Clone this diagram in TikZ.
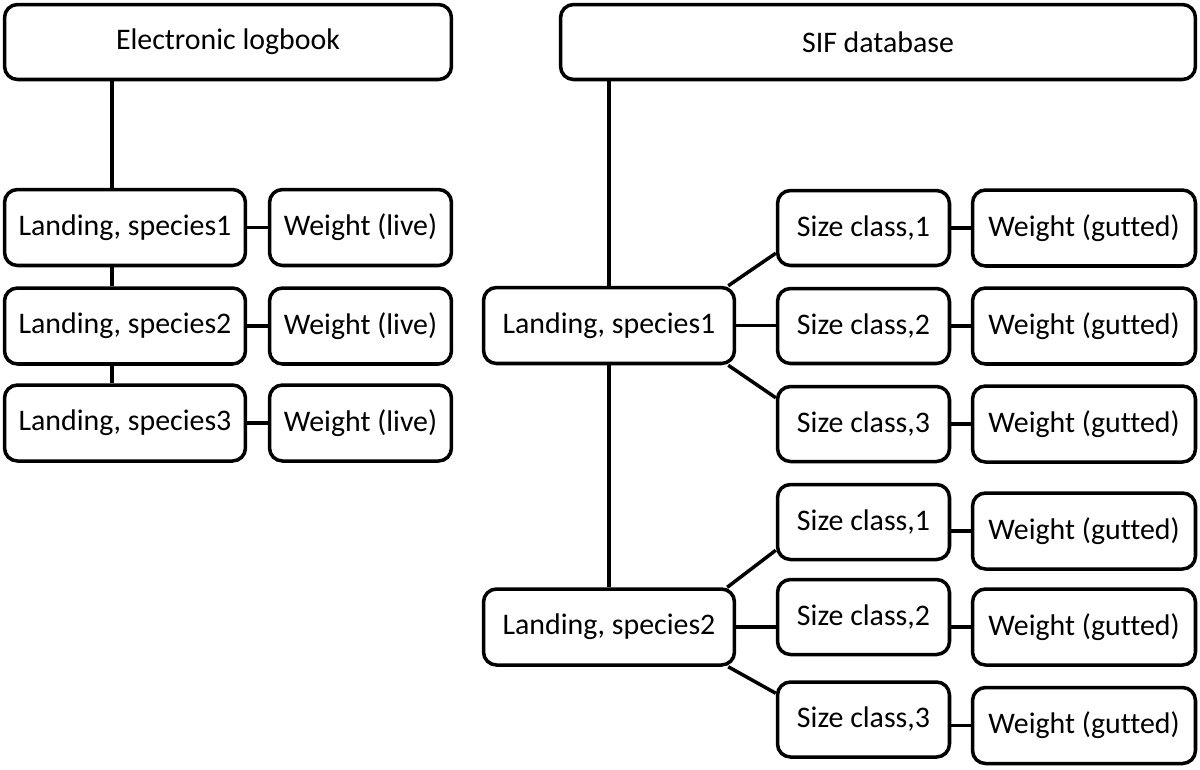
\documentclass[tikz,border=0pt]{standalone}
\usepackage{fontspec}
\setmainfont{Carlito}[Ligatures=NoCommon]
\begin{document}
\begin{tikzpicture}[
    x=0.02cm, y=-0.02cm,
    line width=2pt,
    font=\fontsize{17}{20}\selectfont,
    topbox/.style={rectangle, draw, rounded corners=0.26cm, minimum height=1.5cm, inner sep=0pt},
    landbox/.style={rectangle, draw, rounded corners=0.26cm, minimum height=1.52cm, minimum width=4.82cm, inner sep=0pt},
    livebox/.style={rectangle, draw, rounded corners=0.26cm, minimum height=1.52cm, minimum width=3.64cm, inner sep=0pt},
    sizebox/.style={rectangle, draw, rounded corners=0.26cm, minimum height=1.5cm, minimum width=3.44cm, inner sep=0pt},
    gutbox/.style={rectangle, draw, rounded corners=0.26cm, minimum height=1.52cm, minimum width=4.46cm, inner sep=0pt}
]
\useasboundingbox (0,0) rectangle (1200,769);

% Quellen
\node[topbox, minimum width=8.94cm] at (228,42) (elog) {Electronic logbook};
\node[topbox, minimum width=12.7cm] at (878,42) (sif) {SIF database};

% Logbuch: Anlandungen je Art
\node[landbox] at (125,227.5) (ls1) {Landing, species1};
\node[landbox] at (125,326) (ls2) {Landing, species2};
\node[landbox] at (125,423) (ls3) {Landing, species3};

% Logbuch: Gewichte
\node[livebox] at (360.5,227.5) (lw1) {Weight (live)};
\node[livebox] at (360.5,326) (lw2) {Weight (live)};
\node[livebox] at (360.5,423) (lw3) {Weight (live)};

% SIF: Anlandungen je Art
\node[landbox, minimum width=5.02cm] at (609,325.5) (sp1) {Landing, species1};
\node[landbox, minimum width=5.02cm] at (609,627) (sp2) {Landing, species2};

% SIF: Größenklassen, Art 1
\node[sizebox] at (863.5,228) (sca1) {Size class,1};
\node[sizebox] at (863.5,326) (sca2) {Size class,2};
\node[sizebox] at (863.5,424) (sca3) {Size class,3};
\node[gutbox] at (1084,228) (wga1) {Weight (gutted)};
\node[gutbox] at (1084,326) (wga2) {Weight (gutted)};
\node[gutbox] at (1084,424) (wga3) {Weight (gutted)};

% SIF: Größenklassen, Art 2
\node[sizebox] at (863.5,522) (scb1) {Size class,1};
\node[sizebox] at (863.5,617) (scb2) {Size class,2};
\node[sizebox] at (863.5,719.5) (scb3) {Size class,3};
\node[gutbox] at (1084,531) (wgb1) {Weight (gutted)};
\node[gutbox] at (1084,627) (wgb2) {Weight (gutted)};
\node[gutbox] at (1084,725.5) (wgb3) {Weight (gutted)};

% Vertikale Verbindungen links
\draw ([xshift=-0.26cm]ls1.north) -- ([xshift=-0.26cm]ls1.north |- elog.south);
\draw ([xshift=-0.26cm]ls1.south) -- ([xshift=-0.26cm]ls2.north);
\draw ([xshift=-0.26cm]ls2.south) -- ([xshift=-0.26cm]ls3.north);

% Verbindungen zu Gewichten links
\draw (ls1.east) -- (lw1.west);
\draw (ls2.east) -- (lw2.west);
\draw (ls3.east) -- (lw3.west);

% Vertikale Verbindungen rechts
\draw (sp1.north) -- (sp1.north |- sif.south);
\draw (sp1.south) -- (sp2.north);

% Verzweigung zu Größenklassen
\draw ([xshift=-0.16cm]sp1.north east) -- ([yshift=0.28cm]sca1.south west);
\draw (sp1.east) -- (sp1.east -| sca2.west);
\draw ([xshift=-0.16cm]sp1.south east) -- ([yshift=-0.26cm]sca3.north west);
\draw ([xshift=-0.18cm]sp2.north east) -- ([yshift=0.22cm]scb1.south west);
\draw (sp2.east) -- (sp2.east -| scb2.west);
\draw ([xshift=-0.16cm]sp2.south east) -- ([yshift=-0.26cm]scb3.north west);

% Verbindungen zu Gewichten rechts
\draw (wga1.west) -- (wga1.west -| sca1.east);
\draw (wga2.west) -- (wga2.west -| sca2.east);
\draw (wga3.west) -- (wga3.west -| sca3.east);
\draw (wgb1.west) -- (wgb1.west -| scb1.east);
\draw (wgb2.west) -- (wgb2.west -| scb2.east);
\draw (wgb3.west) -- (wgb3.west -| scb3.east);
\end{tikzpicture}
\end{document}
